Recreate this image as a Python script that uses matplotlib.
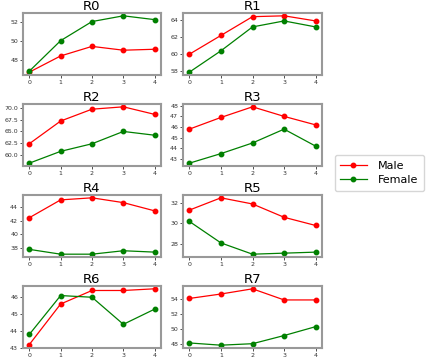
import matplotlib
matplotlib.use("Agg")
import matplotlib.pyplot as plt

# x positions shared by every panel
steps = [0, 1, 2, 3, 4]
panel_names = ["R0", "R1", "R2", "R3", "R4", "R5", "R6", "R7"]

# values, one list per panel
male = [
    [46.7, 48.4, 49.4, 49.0, 49.1],
    [60.0, 62.2, 64.4, 64.5, 63.9],
    [62.4, 67.2, 69.7, 70.2, 68.6],
    [45.8, 46.9, 47.9, 47.0, 46.2],
    [42.4, 45.0, 45.3, 44.6, 43.4],
    [31.3, 32.5, 31.9, 30.6, 29.8],
    [43.2, 45.6, 46.4, 46.4, 46.5],
    [54.1, 54.7, 55.4, 53.9, 53.9],
]
female = [
    [46.8, 50.0, 52.0, 52.6, 52.2],
    [57.9, 60.4, 63.2, 63.9, 63.2],
    [58.3, 60.8, 62.4, 65.0, 64.2],
    [42.6, 43.5, 44.5, 45.8, 44.2],
    [37.8, 37.1, 37.1, 37.6, 37.4],
    [30.2, 28.1, 27.0, 27.1, 27.2],
    [43.8, 46.1, 46.0, 44.4, 45.3],
    [48.1, 47.8, 48.0, 49.1, 50.3],
]
yticks = [
    [48, 50, 52],
    [58, 60, 62, 64],
    [60.0, 62.5, 65.0, 67.5, 70.0],
    [43, 44, 45, 46, 47, 48],
    [38, 40, 42, 44],
    [28, 30, 32],
    [43, 44, 45, 46],
    [48, 50, 52, 54],
]

W, H = 429, 360
fig = plt.figure(figsize=(W / 100, H / 100), dpi=100)

col_left = [23, 183]
col_width = [138, 139]
row_top = [13, 104, 195, 286]
ax_h = 62

for i, name in enumerate(panel_names):
    r, c = divmod(i, 2)
    ax = fig.add_axes([col_left[c] / W, (H - row_top[r] - ax_h) / H,
                       col_width[c] / W, ax_h / H])
    ax.plot(steps, male[i], color="red", marker="o", markersize=3.2,
            linewidth=0.9, label="Male")
    ax.plot(steps, female[i], color="green", marker="o", markersize=3.2,
            linewidth=0.9, label="Female")
    ax.set_title(name, fontsize=9.5, pad=2)
    ax.set_xticks(steps)
    ax.set_yticks(yticks[i])
    if i == 2:
        ax.set_yticklabels([f"{v:.1f}" for v in yticks[i]])
    ax.tick_params(labelsize=4.5, length=2, width=0.6, pad=1.5, colors="#333333")
    for s in ax.spines.values():
        s.set_color("#999999")
        s.set_linewidth(1.5)

handles, labels = ax.get_legend_handles_labels()
fig.legend(handles, labels, loc="center left",
           bbox_to_anchor=(329 / W, 1 - 173 / H), fontsize=8,
           handlelength=2.4, handletextpad=1.0, fancybox=True,
           borderpad=0.5, labelspacing=0.4)

fig.savefig("out.png", dpi=100)
